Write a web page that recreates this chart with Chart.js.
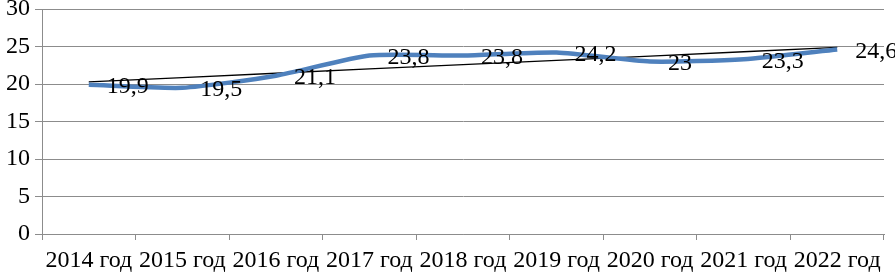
<!DOCTYPE html>
<html>
<head>
<meta charset="utf-8">
<script src="https://cdn.jsdelivr.net/npm/chart.js@4/dist/chart.umd.min.js"></script>
<style>
  html, body { margin: 0; padding: 0; background: #fff; }
  #wrap { width: 895px; height: 272px; position: relative; }
</style>
</head>
<body>
<div id="wrap"><canvas id="trend-chart"></canvas></div>
<script>
// Data
const years = ["2014 год", "2015 год", "2016 год", "2017 год", "2018 год", "2019 год", "2020 год", "2021 год", "2022 год"];
const values = [19.9, 19.5, 21.1, 23.8, 23.8, 24.2, 23, 23.3, 24.6];
const yTicks = [0, 5, 10, 15, 20, 25, 30];

// Linear trend (least squares), like the spreadsheet trendline
function linearTrend(ys) {
  const n = ys.length;
  const mx = (n - 1) / 2;
  const my = ys.reduce((a, b) => a + b, 0) / n;
  let sxy = 0, sxx = 0;
  ys.forEach((y, i) => { sxy += (i - mx) * (y - my); sxx += (i - mx) * (i - mx); });
  const k = sxy / sxx;
  return ys.map((y, i) => my + k * (i - mx));
}
const trend = linearTrend(values);

const serif = "'Liberation Serif', 'Times New Roman', serif";

// Draw value labels to the right of each point
const valueLabels = {
  id: "valueLabels",
  afterDatasetsDraw(chart) {
    const ctx = chart.ctx;
    const meta = chart.getDatasetMeta(0);
    ctx.save();
    ctx.font = "24px " + serif;
    ctx.fillStyle = "#000";
    ctx.textAlign = "left";
    ctx.textBaseline = "middle";
    meta.data.forEach((pt, i) => {
      const txt = String(values[i]).replace(".", ",");
      ctx.fillText(txt, pt.x + 18, pt.y + 2);
    });
    ctx.restore();
  }
};

document.addEventListener("DOMContentLoaded", function () {
  const ctx = document.getElementById("trend-chart").getContext("2d");

  new Chart(ctx, {
    type: "line",
    data: {
      labels: years,
      datasets: [
        {
          label: "values",
          data: values,
          borderColor: "#4F81BD",
          borderWidth: 4.5,
          pointRadius: 0,
          tension: 0.2,
          fill: false,
        },
        {
          label: "trend",
          data: trend,
          borderColor: "#000",
          borderWidth: 1.3,
          pointRadius: 0,
          tension: 0,
          fill: false,
        },
      ],
    },
    options: {
      responsive: true,
      maintainAspectRatio: false,
      animation: false,
      layout: { padding: { top: 9, right: 11, left: 0, bottom: 0 } },
      plugins: {
        legend: { display: false },
        tooltip: { enabled: false },
      },
      scales: {
        x: {
          offset: true,
          grid: {
            offset: true,
            drawOnChartArea: false,
            color: "#8c8c8c",
            tickLength: 6,
          },
          border: { color: "#8c8c8c" },
          ticks: {
            color: "#000",
            padding: 6,
            maxRotation: 0,
            autoSkip: false,
            font: { family: serif, size: 24 },
          },
          afterFit: function (axis) {
            axis.height = 38;
            axis.paddingLeft = 0;
            axis.paddingRight = 0;
          },
        },
        y: {
          min: 0,
          max: 30,
          afterBuildTicks: function (axis) {
            axis.ticks = yTicks.map((v) => ({ value: v }));
          },
          grid: { color: "#8c8c8c", tickLength: 7 },
          border: { color: "#8c8c8c" },
          ticks: {
            color: "#000",
            padding: 5,
            font: { family: serif, size: 24 },
          },
          afterFit: function (axis) {
            axis.width = 42;
            axis.paddingTop = 0;
            axis.paddingBottom = 0;
          },
        },
      },
    },
    plugins: [valueLabels],
  });
});
</script>
</body>
</html>
